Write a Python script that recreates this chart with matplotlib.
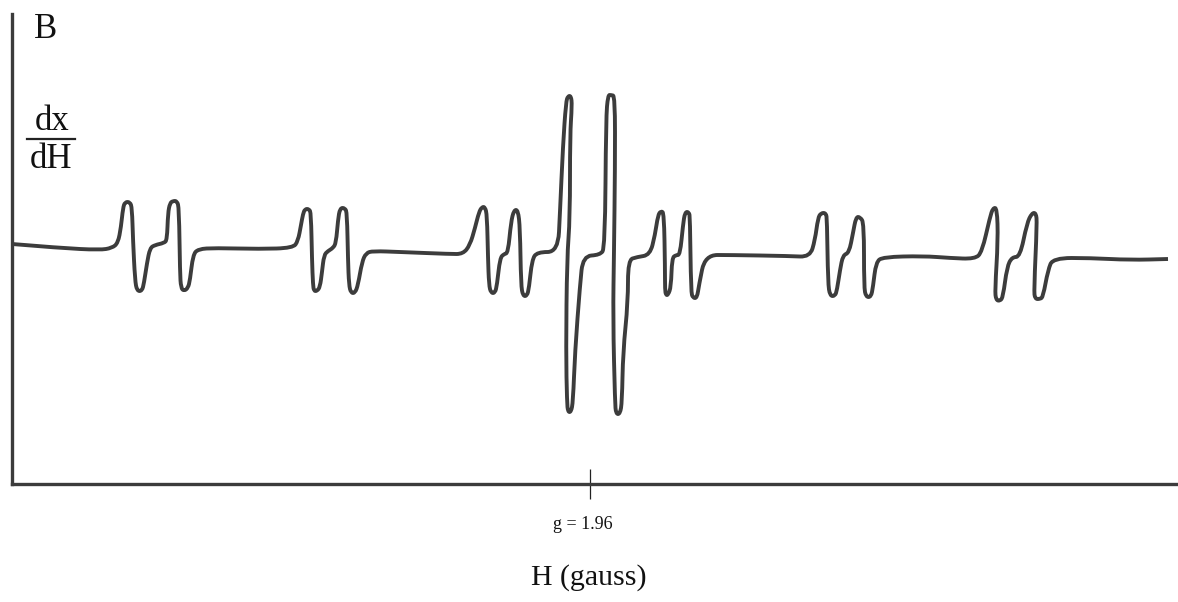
"""Hand-drawn EPR spectrum, panel B."""

import matplotlib

matplotlib.use("Agg")
import matplotlib.pyplot as plt
import numpy as np
from matplotlib.patches import PathPatch
from matplotlib.path import Path

INK = "#3c3c3c"

# trace, axis units equal image pixels (y grows downward)
# one line per line group, the two strong central lines on their own
field = [
    12, 60, 100, 112, 118, 121, 123, 125, 130, 132, 133, 135, 137, 142, 144, 147, 150, 155, 164, 167, 168, 170, 173, 177, 179, 180, 181, 184, 188, 190, 193, 198,
    215, 260, 293, 298, 301, 303, 305, 309, 311, 312, 313, 314, 317, 320, 322, 324, 328, 333, 336, 338, 340, 345, 347, 348, 349, 351, 355, 358, 362, 366, 373, 400,
    450, 463, 470, 475, 479, 482, 485, 487, 488, 489, 491, 495, 497, 500, 504, 508, 511, 514, 518, 520, 521, 523, 527, 529, 532, 537, 558,
    560, 563, 566, 568, 571, 572, 570, 570, 567, 566, 567, 568, 571, 573, 575, 580, 583, 600, 605, 606, 608, 611, 615, 615, 614, 613, 615, 616, 620, 622, 623, 628, 628, 637,
    650, 655, 658, 661, 664, 665, 665, 666, 668, 671, 672, 676, 680, 683, 685, 689, 690, 691, 693, 697, 699, 705, 730,
    790, 810, 815, 818, 821, 826, 827, 828, 830, 835, 837, 840, 843, 849, 853, 856, 860, 864, 864, 866, 871, 873, 876, 883,
    923, 950, 975, 982, 990, 993, 997, 998, 995, 996, 1000, 1003, 1007, 1012, 1020, 1027, 1032, 1036, 1037, 1034, 1035, 1040, 1043, 1048, 1053, 1090, 1130, 1168,
]
signal = [
    244, 248, 250, 248, 243, 227, 208, 202, 202, 208, 240, 280, 291, 291, 283, 263, 248, 245, 243, 240, 213, 203, 201, 201, 208, 273, 288, 291, 288, 280, 255, 249,
    248, 249, 248, 241, 225, 214, 209, 209, 213, 260, 285, 291, 291, 287, 272, 255, 251, 248, 243, 220, 208, 208, 213, 260, 285, 293, 293, 285, 262, 253, 251, 252,
    254, 254, 245, 228, 212, 207, 207, 215, 258, 285, 293, 293, 285, 258, 254, 253, 222, 210, 210, 228, 285, 296, 296, 288, 260, 252, 252,
    212, 145, 102, 96, 96, 105, 135, 218, 258, 352, 402, 412, 412, 402, 352, 285, 256, 255, 248, 118, 95, 95, 96, 168, 252, 318, 402, 414, 414, 402, 352, 302, 260, 257,
    255, 235, 215, 211, 213, 268, 290, 295, 295, 287, 258, 255, 255, 225, 212, 212, 218, 292, 298, 298, 285, 255, 255,
    256, 257, 240, 218, 213, 213, 220, 283, 296, 296, 290, 270, 255, 253, 233, 217, 217, 223, 287, 297, 297, 287, 262, 257,
    256, 258, 259, 252, 217, 208, 208, 240, 290, 300, 301, 297, 267, 257, 257, 223, 213, 213, 223, 290, 299, 299, 297, 270, 258, 258, 260, 259,
]
marker_field = [590]
marker_label = "g = 1.96"

plt.rcParams["font.family"] = ["Liberation Serif", "DejaVu Serif"]


def rounded_trace(xs, ys):
    """Quadratic curve through midpoints, so the pen corners come out round."""
    pts = np.column_stack([xs, ys]).astype(float)
    mids = (pts[:-1] + pts[1:]) / 2
    verts = [pts[0]]
    codes = [Path.MOVETO]
    for ctrl, end in zip(pts[1:-1], mids[1:]):
        verts += [ctrl, end]
        codes += [Path.CURVE3, Path.CURVE3]
    verts.append(pts[-1])
    codes.append(Path.LINETO)
    return Path(verts, codes)


W, H = 1178, 602
fig = plt.figure(figsize=(W / 100, H / 100), dpi=100)
ax = fig.add_axes([12 / W, 1 - 484 / H, (W - 12) / W, (484 - 14) / H])
ax.set_xlim(12, W)
ax.set_ylim(484, 14)

ax.add_patch(
    PathPatch(rounded_trace(field, signal), fill=False, edgecolor=INK, lw=2.8, joinstyle="round", clip_on=False)
)

for side in ("top", "right"):
    ax.spines[side].set_visible(False)
for side in ("left", "bottom"):
    ax.spines[side].set_linewidth(2.4)
    ax.spines[side].set_color(INK)

ax.set_yticks([])
ax.set_xticks(marker_field)
ax.set_xticklabels([""])
ax.tick_params(axis="x", direction="inout", length=22, width=0.9, color="#222222")

ax.text(46, 29, "B", fontsize=25, ha="center", va="center", color="#111111")
ax.text(52, 121, "dx", fontsize=25, ha="center", va="center", color="#111111")
ax.plot([27, 75], [139, 139], color="#222222", lw=1.6, clip_on=False)
ax.text(51, 159, "dH", fontsize=25, ha="center", va="center", color="#111111")
ax.text(583, 524, marker_label, fontsize=13, ha="center", va="center", color="#111111", clip_on=False)
ax.text(589, 578, "H (gauss)", fontsize=21.5, ha="center", va="center", color="#111111", clip_on=False)

fig.savefig("out.png", dpi=100)
plt.close(fig)
